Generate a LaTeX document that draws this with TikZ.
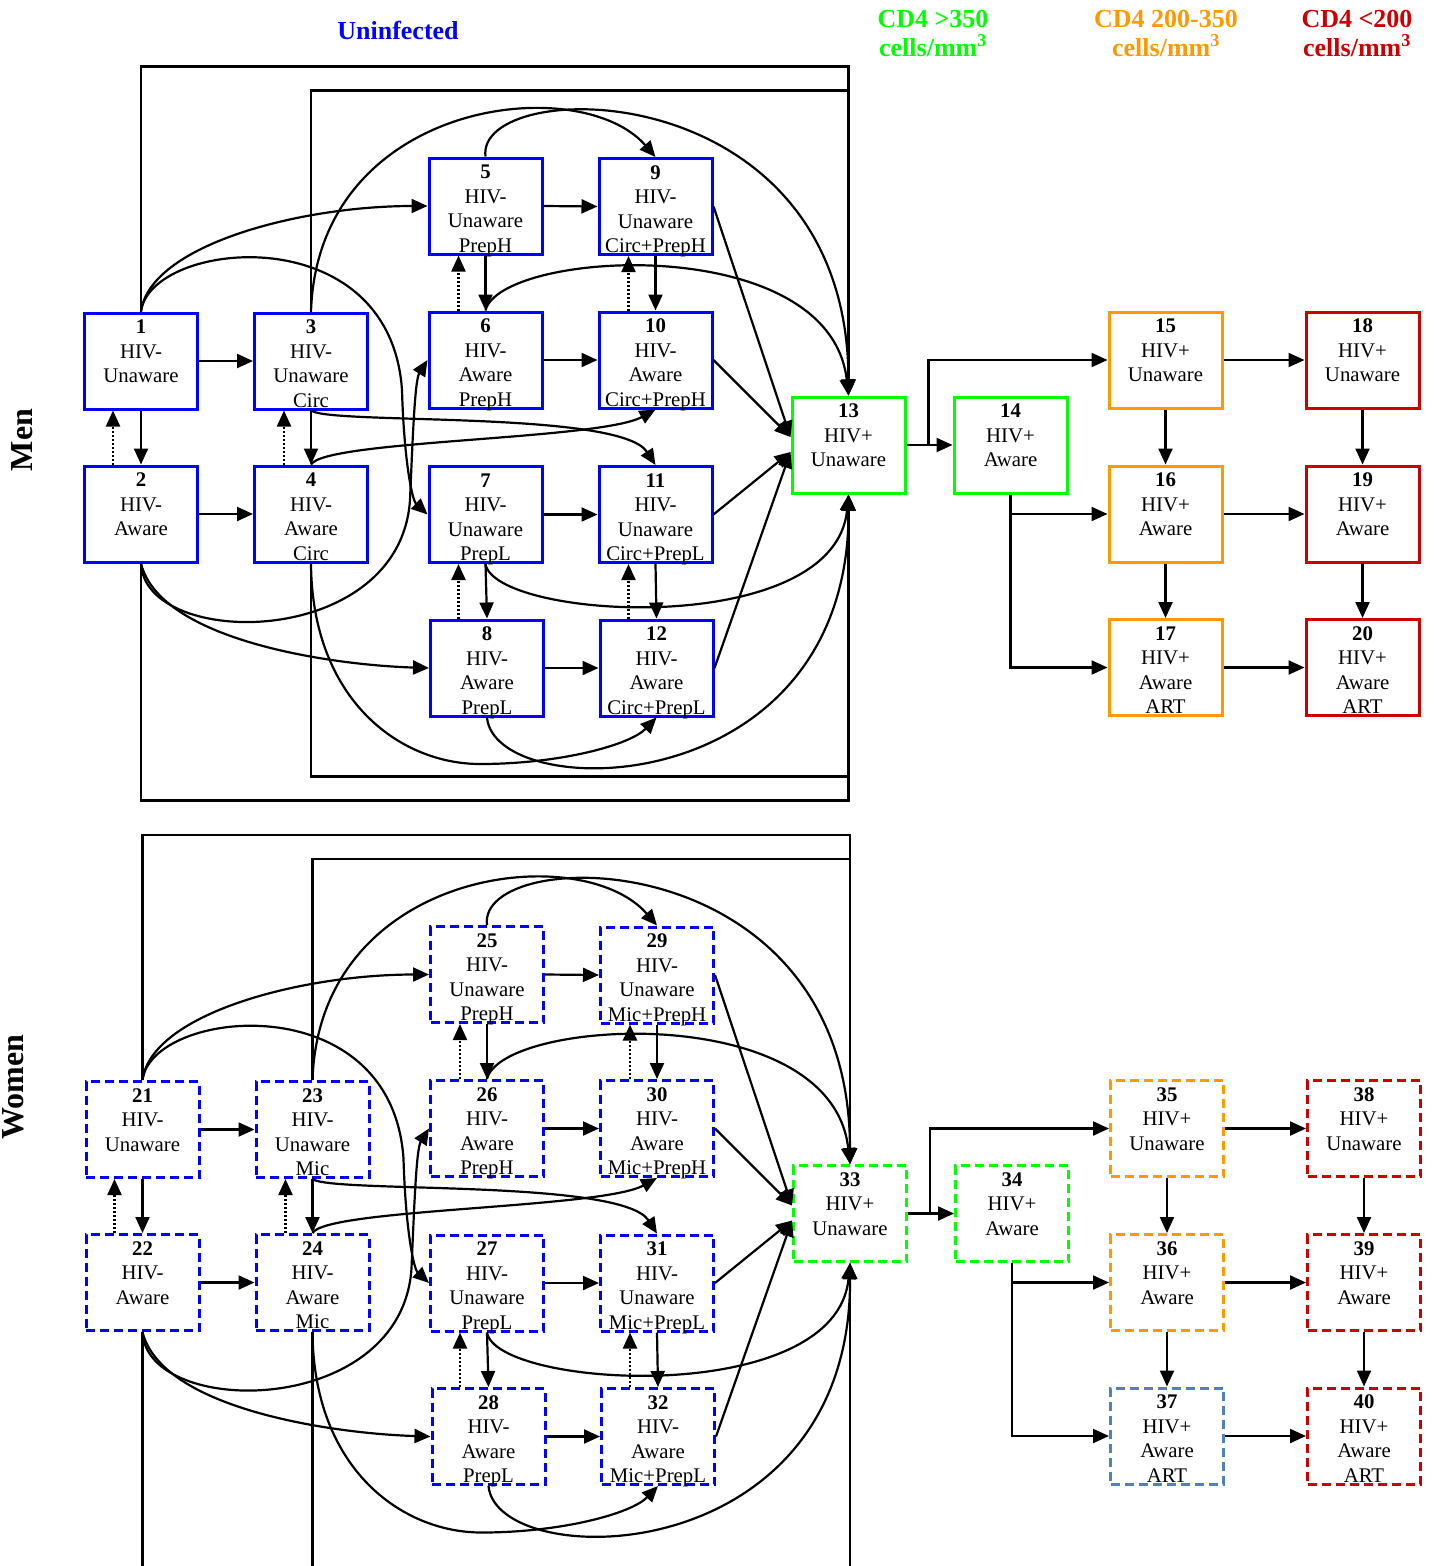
\documentclass[tikz,border=0pt]{standalone}
\usepackage{fontspec}
\setmainfont{Liberation Serif}
\usetikzlibrary{arrows.meta,calc}
\definecolor{hblue}{RGB}{0,0,255}
\definecolor{hgreen}{RGB}{0,255,0}
\definecolor{horange}{RGB}{255,153,0}
\definecolor{hred}{RGB}{204,0,0}
\definecolor{hsteel}{RGB}{79,129,189}
\newcommand\bxt[1]{\parbox[t][92pt][t]{109pt}{\centering\fontsize{20.8}{24.5}\selectfont\rule{0pt}{18.5pt}#1}}
\tikzset{
  basebox/.style={draw,line width=3pt,inner sep=2pt},
  hbox/.style={basebox,draw=hblue},
  gbox/.style={basebox,draw=hgreen},
  obox/.style={basebox,draw=horange},
  rbox/.style={basebox,draw=hred},
  bbox/.style={basebox,draw=hsteel},
  nodash/.style={},
  dsh/.style={dash pattern=on 9pt off 5pt},
  arr/.style={-{Triangle[length=16pt,width=14pt]},line width=2.2pt},
  dotarr/.style={arr,dash pattern=on 2pt off 2pt},
  hdr/.style={font=\bfseries\fontsize{26}{29}\selectfont,align=center,inner sep=0pt},
}
\newcommand\panel[6]{%
  \node[hbox,#3] (n1) at (141,361) {\bxt{\textbf{\the\numexpr#1+1\relax}\\HIV-\\Unaware}};
  \node[hbox,#3] (n2) at (141,514) {\bxt{\textbf{\the\numexpr#1+2\relax}\\HIV-\\Aware}};
  \node[hbox,#3] (n3) at (311,361) {\bxt{\textbf{\the\numexpr#1+3\relax}\\HIV-\\Unaware\\#2}};
  \node[hbox,#3] (n4) at (311,514) {\bxt{\textbf{\the\numexpr#1+4\relax}\\HIV-\\Aware\\#2}};
  \node[hbox,#3] (n5) at (485.5,206) {\bxt{\textbf{\the\numexpr#1+5\relax}\\HIV-\\Unaware\\PrepH}};
  \node[hbox,#3] (n6) at (485.5,360) {\bxt{\textbf{\the\numexpr#1+6\relax}\\HIV-\\Aware\\PrepH}};
  \node[hbox,#3] (n7) at (485.5,514.5) {\bxt{\textbf{\the\numexpr#1+7\relax}\\HIV-\\Unaware\\PrepL}};
  \node[hbox,#3] (n8) at (487,668) {\bxt{\textbf{\the\numexpr#1+8\relax}\\HIV-\\Aware\\PrepL}};
  \node[hbox,#3] (n9) at (655.5,206.5) {\bxt{\textbf{\the\numexpr#1+9\relax}\\HIV-\\Unaware\\#2+PrepH}};
  \node[hbox,#3] (n10) at (655.5,360) {\bxt{\textbf{\the\numexpr#1+10\relax}\\HIV-\\Aware\\#2+PrepH}};
  \node[hbox,#3] (n11) at (655.5,514.5) {\bxt{\textbf{\the\numexpr#1+11\relax}\\HIV-\\Unaware\\#2+PrepL}};
  \node[hbox,#3] (n12) at (656.5,668) {\bxt{\textbf{\the\numexpr#1+12\relax}\\HIV-\\Aware\\#2+PrepL}};
  \node[gbox,#3] (n13) at (848.5,445) {\bxt{\textbf{\the\numexpr#1+13\relax}\\HIV+\\Unaware}};
  \node[gbox,#3] (n14) at (1010.5,445) {\bxt{\textbf{\the\numexpr#1+14\relax}\\HIV+\\Aware}};
  \node[obox,#3] (n15) at (1165.5,360) {\bxt{\textbf{\the\numexpr#1+15\relax}\\HIV+\\Unaware}};
  \node[obox,#3] (n16) at (1165.5,514) {\bxt{\textbf{\the\numexpr#1+16\relax}\\HIV+\\Aware}};
  \node[#4,#3] (n17) at (1165.5,667.5) {\bxt{\textbf{\the\numexpr#1+17\relax}\\HIV+\\Aware\\ART}};
  \node[rbox,#3] (n18) at (1362.5,360) {\bxt{\textbf{\the\numexpr#1+18\relax}\\HIV+\\Unaware}};
  \node[rbox,#3] (n19) at (1362.5,514) {\bxt{\textbf{\the\numexpr#1+19\relax}\\HIV+\\Aware}};
  \node[rbox,#3] (n20) at (1362.5,667.5) {\bxt{\textbf{\the\numexpr#1+20\relax}\\HIV+\\Aware\\ART}};
  % straight edges
  \draw[arr] (n1.east) -- (n3.west);
  \draw[arr] (n2.east) -- (n4.west);
  \draw[arr] (n1.south) -- (n2.north);
  \draw[dotarr] ([xshift=-28pt]n2.north) -- ([xshift=-28pt]n1.south);
  \draw[arr] (n3.south) -- (n4.north);
  \draw[dotarr] ([xshift=-27pt]n4.north) -- ([xshift=-27pt]n3.south);
  \draw[arr] (n5.east) -- (n9.west);
  \draw[arr] (n6.east) -- (n10.west);
  \draw[arr] (n7.east) -- (n11.west);
  \draw[arr] (n8.east) -- (n12.west);
  \draw[arr] (n5.south) -- (n6.north);
  \draw[dotarr] ([xshift=-27pt]n6.north) -- ([xshift=-27pt]n5.south);
  \draw[arr] (n9.south) -- (n10.north);
  \draw[dotarr] ([xshift=-27pt]n10.north) -- ([xshift=-27pt]n9.south);
  \draw[arr] (n7.south) -- (n8.north);
  \draw[dotarr] ([xshift=-27pt]n7.south |- n8.north) -- ([xshift=-27pt]n7.south);
  \draw[arr] (n11.south) -- (n12.north);
  \draw[dotarr] ([xshift=-27pt]n11.south |- n12.north) -- ([xshift=-27pt]n11.south);
  \draw[arr] (n9.east) -- ([yshift=8pt]n13.west);
  \draw[arr] (n10.east) -- ([yshift=8pt]n13.west);
  \draw[arr] (n11.east) -- ([yshift=-7pt]n13.west);
  \draw[arr] (n12.east) -- ([yshift=-7pt]n13.west);
  % enclosing connectors
  \draw[arr] (n1.north) -- ++(0,-245) -| (n13.north);
  \draw[arr] (n3.north) -- ++(0,-221) -| (n13.north);
  \draw[arr] (n2.south) -- ++(0,#5) -| (n13.south);
  \draw[arr] (n4.south) -- ++(0,#6) -| (n13.south);
  % curves
  \draw[arr] (n1.north) .. controls (150,245) and (300,206) .. (n5.west);
  \draw[arr] (n1.north) .. controls (150,240) and (390,215) .. (402,390) .. controls (404,460) and (412,500) .. (n7.west);
  \draw[arr] (n2.south) .. controls (145,650) and (400,650) .. (410,500) .. controls (413,430) and (415,380) .. (n6.west);
  \draw[arr] (n2.south) .. controls (160,640) and (330,665) .. (n8.west);
  \draw[arr] (n3.north) .. controls (318,100) and (580,70) .. (n9.north);
  \draw[arr] (n3.south) .. controls (330,425) and (620,410) .. (n11.north);
  \draw[arr] (n4.north) .. controls (325,440) and (600,440) .. (n10.south);
  \draw[arr] (n4.south) .. controls (312,700) and (400,764) .. (480,764) .. controls (560,764) and (630,745) .. (n12.south);
  \draw[arr] (n5.north) .. controls (475,75) and (848,70) .. (n13.north);
  \draw[arr] (n6.north) .. controls (500,250) and (830,230) .. (n13.north);
  \draw[arr] (n7.south) .. controls (495,620) and (835,640) .. (n13.south);
  \draw[arr] (n8.south) .. controls (495,805) and (850,805) .. (n13.south);
  % infected part
  \draw[arr] (n13.east) -- (n14.west);
  \draw[arr] (n13.east) -- ++(22,0) |- (n15.west);
  \draw[arr] (n14.south) |- (n16.west);
  \draw[arr] (n14.south) |- (n17.west);
  \draw[arr] (n15.south) -- (n16.north);
  \draw[arr] (n16.south) -- (n17.north);
  \draw[arr] (n18.south) -- (n19.north);
  \draw[arr] (n19.south) -- (n20.north);
  \draw[arr] (n15.east) -- (n18.west);
  \draw[arr] (n16.east) -- (n19.west);
  \draw[arr] (n17.east) -- (n20.west);
}
\begin{document}
\begin{tikzpicture}[x=1pt,y=-1pt]
\useasboundingbox (0,0) rectangle (1434,1566);
\clip (0,0) rectangle (1434,1566);
\node[hdr,text=hblue] (uninf) at (398,30) {Uninfected};
\node[hdr,text=hgreen] (cda) at (933,33) {CD4 {>}350\\cells/mm\textsuperscript{3}};
\node[hdr,text=horange] (cdb) at (1166,33) {CD4 200-350\\cells/mm\textsuperscript{3}};
\node[hdr,text=hred] (cdc) at (1357,33) {CD4 {<}200\\cells/mm\textsuperscript{3}};
\node[rotate=90,font=\bfseries\fontsize{32}{36}\selectfont,inner sep=0pt] (men) at (22,440) {Men};
\node[rotate=90,font=\bfseries\fontsize{32}{36}\selectfont,inner sep=0pt] (women) at (13,1087) {Women};
\begin{scope}[name prefix=m-]
\panel{0}{Circ}{nodash}{obox}{237}{213}
\end{scope}
\begin{scope}[shift={(1.5,768.5)},name prefix=w-]
\panel{20}{Mic}{dsh}{bbox}{300}{280}
\end{scope}
\end{tikzpicture}
\end{document}
